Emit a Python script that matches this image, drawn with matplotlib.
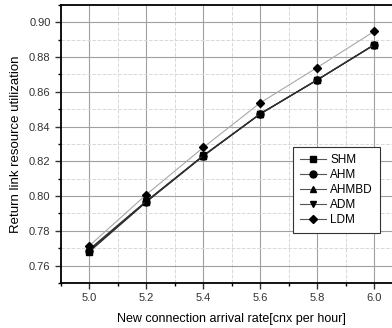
import numpy as np
import matplotlib
matplotlib.use("Agg")
import matplotlib.pyplot as plt
from matplotlib.ticker import MultipleLocator

plt.rcParams['font.family'] = ['Liberation Sans', 'DejaVu Sans']

# data
rate = [5.0, 5.2, 5.4, 5.6, 5.8, 6.0]
shm = [0.768, 0.7966, 0.823, 0.8472, 0.8668, 0.8869]
ahm = [0.7685, 0.7968, 0.8232, 0.8473, 0.8668, 0.8870]
ahmbd = [0.769, 0.797, 0.8233, 0.8474, 0.8669, 0.8871]
adm = [0.7695, 0.7972, 0.8234, 0.8475, 0.8670, 0.8872]
ldm = [0.7715, 0.8009, 0.828, 0.8537, 0.874, 0.8948]

names = ["SHM", "AHM", "AHMBD", "ADM", "LDM"]
markers = ["s", "o", "^", "v", "D"]
series = [shm, ahm, ahmbd, adm, ldm]
line_cols = ["#303030", "#303030", "#303030", "#303030", "#a8a8a8"]

fig = plt.figure(figsize=(3.92, 3.28), dpi=100)
ax = fig.add_axes([0.1556, 0.1372, 0.8714, 0.8476])

for y, name, m, c in zip(series, names, markers, line_cols):
    ax.plot(rate, y, color=c, lw=0.8, marker=m, ms=5 if m != "D" else 4.5,
            mfc="black", mec="black", label=name)

ax.set_xlim(4.9, 6.1)
ax.set_ylim(0.75, 0.91)
ax.xaxis.set_major_locator(MultipleLocator(0.2))
ax.xaxis.set_minor_locator(MultipleLocator(0.1))
ax.yaxis.set_major_locator(MultipleLocator(0.02))
ax.yaxis.set_minor_locator(MultipleLocator(0.01))
ax.xaxis.set_major_formatter(plt.FormatStrFormatter("%.1f"))
ax.yaxis.set_major_formatter(plt.FormatStrFormatter("%.2f"))

ax.grid(which="major", color="#a0a0a0", lw=0.8, ls="-")
ax.grid(which="minor", color="#d8d8d8", lw=0.7, ls="--")
ax.set_axisbelow(True)

ax.tick_params(which="major", direction="out", length=4, width=1, labelsize=8, colors="#333333")
ax.tick_params(which="minor", direction="out", length=2.5, width=1)
ax.tick_params(axis="x", pad=3.5)
for s in ax.spines.values():
    s.set_linewidth(1.3)

ax.set_xlabel("New connection arrival rate[cnx per hour]", fontsize=9, labelpad=7)
ax.set_ylabel("Return link resource utilization", fontsize=9.5, labelpad=5)

leg = ax.legend(loc="lower right", bbox_to_anchor=(0.934, 0.18), fontsize=8.5,
                fancybox=False, edgecolor="#333333", framealpha=1, borderaxespad=0,
                handlelength=2.2, labelspacing=0.25, borderpad=0.6, handletextpad=0.4)
leg.get_frame().set_linewidth(0.8)
for h in leg.get_lines():
    h.set_color("#555555")

fig.savefig("out.png", dpi=100)
